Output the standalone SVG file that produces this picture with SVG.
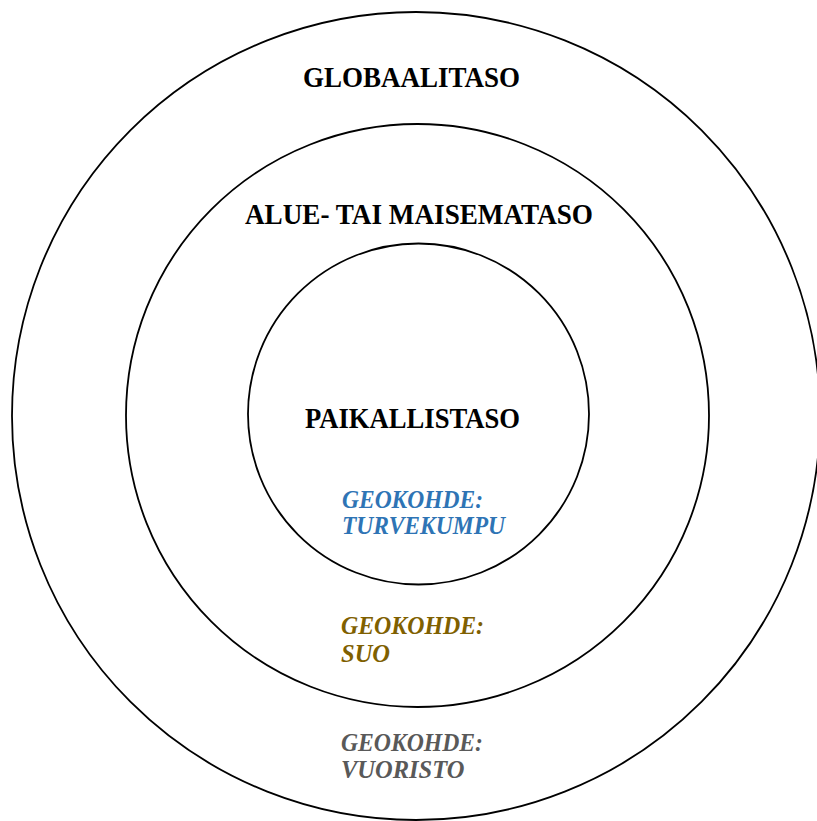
<svg xmlns="http://www.w3.org/2000/svg" width="817" height="821" viewBox="0 0 817 821">
<style>
.ring{fill:none;stroke:#000;stroke-width:1.8}
.lvl{font-family:"Liberation Serif","Times New Roman",serif;font-weight:bold;font-size:30px;fill:#000}
.geo{font-family:"Liberation Serif","Times New Roman",serif;font-weight:bold;font-style:italic;font-size:24.5px}
</style>
<rect width="817" height="821" fill="#fff"/>
<g id="global">
<circle class="ring" cx="416" cy="416" r="404"/>
<text class="lvl" x="303" y="86.5" textLength="217" lengthAdjust="spacingAndGlyphs">GLOBAALITASO</text>
</g>
<g id="alue">
<circle class="ring" cx="417.5" cy="415.5" r="291.5"/>
<text class="lvl" x="245" y="223.5" textLength="348" lengthAdjust="spacingAndGlyphs">ALUE- TAI MAISEMATASO</text>
</g>
<g id="paikallinen">
<circle class="ring" cx="418.5" cy="414" r="170.5"/>
<text class="lvl" x="305" y="427.5" textLength="215" lengthAdjust="spacingAndGlyphs">PAIKALLISTASO</text>
</g>
<g id="geo-turvekumpu" fill="#2E74B5">
<text class="geo" x="342" y="508" textLength="141" lengthAdjust="spacingAndGlyphs">GEOKOHDE:</text>
<text class="geo" x="342" y="533.5" textLength="163" lengthAdjust="spacingAndGlyphs">TURVEKUMPU</text>
</g>
<g id="geo-suo" fill="#7F6000">
<text class="geo" x="341" y="634" textLength="143" lengthAdjust="spacingAndGlyphs">GEOKOHDE:</text>
<text class="geo" x="341" y="661.5">SUO</text>
</g>
<g id="geo-vuoristo" fill="#595959">
<text class="geo" x="341" y="751" textLength="142" lengthAdjust="spacingAndGlyphs">GEOKOHDE:</text>
<text class="geo" x="341" y="778">VUORISTO</text>
</g>
<g id="connectors"></g>
</svg>
